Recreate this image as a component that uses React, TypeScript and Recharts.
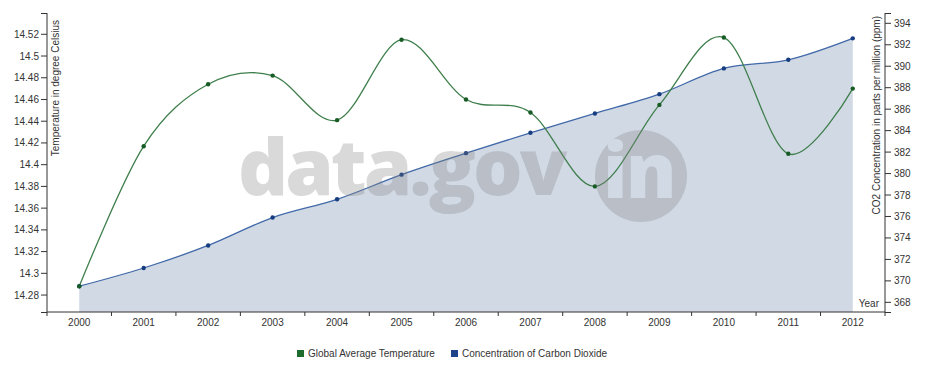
import { ComposedChart, Area, Line, XAxis, YAxis, Legend, Label } from "recharts";

const years = ["2000", "2001", "2002", "2003", "2004", "2005", "2006", "2007", "2008", "2009", "2010", "2011", "2012"];
const temperature = [14.288, 14.417, 14.474, 14.482, 14.441, 14.515, 14.46, 14.448, 14.38, 14.455, 14.517, 14.41, 14.47];
const co2 = [369.5, 371.2, 373.3, 375.9, 377.6, 379.9, 381.9, 383.8, 385.6, 387.4, 389.8, 390.6, 392.6];

const tempTicks = [14.28, 14.3, 14.32, 14.34, 14.36, 14.38, 14.4, 14.42, 14.44, 14.46, 14.48, 14.5, 14.52];
const co2Ticks = [368, 370, 372, 374, 376, 378, 380, 382, 384, 386, 388, 390, 392, 394];

const seriesNames = ["Global Average Temperature", "Concentration of Carbon Dioxide"];

const data = years.map((year, i) => ({ year, temp: temperature[i], co2: co2[i] }));

const W = 926;
const H = 374;
const PLOT_LEFT = 47;
const PLOT_RIGHT = 885;
const PLOT_TOP = 13;
const PLOT_BOTTOM = 312;
const BAND = (PLOT_RIGHT - PLOT_LEFT) / years.length;

const FONT = "'Liberation Sans', Arial, sans-serif";
const AXIS = "#333";
const TEXT = "#333";
const GREEN_LINE = "#3f7f4c";
const GREEN_DOT = "#175c25";
const BLUE_LINE = "#4169a8";
const BLUE_DOT = "#163d80";
const AREA_FILL = "#d1d9e5";
const legendColors = ["#1e6b2e", "#1d4488"];

// cardinal spline (tension 0), same maths as d3 curveCardinal
function cardinal(ctx: any) {
  const k = 1 / 6;
  let line = NaN;
  let n = 0;
  let x0 = 0, y0 = 0, x1 = 0, y1 = 0, x2 = 0, y2 = 0;
  const seg = (x: number, y: number) =>
    ctx.bezierCurveTo(x1 + k * (x2 - x0), y1 + k * (y2 - y0), x2 + k * (x1 - x), y2 + k * (y1 - y), x2, y2);
  return {
    areaStart() { line = 0; },
    areaEnd() { line = NaN; },
    lineStart() { n = 0; },
    lineEnd() {
      if (n === 2) ctx.lineTo(x2, y2);
      else if (n === 3) seg(x1, y1);
      if (line || (line !== 0 && n === 1)) ctx.closePath();
      line = 1 - line;
    },
    point(x: number, y: number) {
      x = +x; y = +y;
      if (n === 0) { n = 1; if (line) ctx.lineTo(x, y); else ctx.moveTo(x, y); }
      else if (n === 1) { n = 2; x1 = x; y1 = y; }
      else { n = 3; seg(x, y); }
      x0 = x1; x1 = x2; x2 = x;
      y0 = y1; y1 = y2; y2 = y;
    },
  };
}

function YearTick(props: any) {
  const { x, y, payload, index } = props;
  const left = x - BAND / 2;
  return (
    <g>
      <line x1={left} x2={left} y1={PLOT_BOTTOM} y2={PLOT_BOTTOM + 4} stroke={AXIS} />
      {index === years.length - 1 && (
        <line x1={x + BAND / 2} x2={x + BAND / 2} y1={PLOT_BOTTOM} y2={PLOT_BOTTOM + 4} stroke={AXIS} />
      )}
      <text x={x} y={y} dy="0.71em" textAnchor="middle" fontSize={10} fontFamily={FONT} fill={TEXT}>
        {payload.value}
      </text>
    </g>
  );
}

function LegendContent() {
  return (
    <div style={{ display: "flex", alignItems: "center", height: 22, paddingLeft: 297, fontFamily: FONT, fontSize: 10, color: TEXT }}>
      {seriesNames.map((name, i) => (
        <span key={name} style={{ display: "flex", alignItems: "center", marginRight: 16 }}>
          <span style={{ width: 7, height: 7, background: legendColors[i], marginRight: 4 }} />
          {name}
        </span>
      ))}
    </div>
  );
}

const fmtTemp = (v: number) => String(+v.toFixed(2));

export default function App() {
  return (
    <div style={{ position: "absolute", left: 0, top: 0, width: W, height: H, background: "#fff" }}>
      <ComposedChart width={W} height={H} data={data} margin={{ top: PLOT_TOP, right: 0, left: 0, bottom: 10 }}>
        <XAxis
          dataKey="year"
          type="category"
          scale="band"
          height={30}
          interval={0}
          tickSize={5}
          tickLine={false}
          axisLine={{ stroke: AXIS }}
          tick={<YearTick />}
        >
          <Label
            content={() => (
              <text x={PLOT_RIGHT - 6} y={306.5} textAnchor="end" fontSize={10} fontFamily={FONT} fill={TEXT}>
                Year
              </text>
            )}
          />
        </XAxis>
        <YAxis
          yAxisId="temp"
          orientation="left"
          width={PLOT_LEFT}
          domain={[14.2644, 14.5396]}
          ticks={tempTicks}
          interval={0}
          tickFormatter={fmtTemp}
          tickSize={6}
          tickMargin={2}
          axisLine={{ stroke: AXIS }}
          tickLine={{ stroke: AXIS }}
          tick={{ fontSize: 10, fontFamily: FONT, fill: TEXT }}
        >
          <Label
            content={() => (
              <text
                x={58.5}
                y={PLOT_TOP + 7}
                transform={`rotate(-90, 58.5, ${PLOT_TOP + 7})`}
                textAnchor="end"
                fontSize={10}
                fontFamily={FONT}
                fill={TEXT}
              >
                Temperature in degree Celsius
              </text>
            )}
          />
        </YAxis>
        <YAxis
          yAxisId="co2"
          orientation="right"
          width={W - PLOT_RIGHT}
          domain={[367.1, 394.96]}
          ticks={co2Ticks}
          interval={0}
          tickSize={6}
          tickMargin={3}
          axisLine={{ stroke: AXIS }}
          tickLine={{ stroke: AXIS }}
          tick={{ fontSize: 10, fontFamily: FONT, fill: TEXT }}
        >
          <Label
            content={() => (
              <text
                x={879.5}
                y={PLOT_TOP + 3}
                transform={`rotate(-90, 879.5, ${PLOT_TOP + 3})`}
                textAnchor="end"
                fontSize={10}
                fontFamily={FONT}
                fill={TEXT}
              >
                CO2 Concentration in parts per million (ppm)
              </text>
            )}
          />
        </YAxis>
        <Legend verticalAlign="bottom" height={22} content={<LegendContent />} />
        <Area
          yAxisId="co2"
          dataKey="co2"
          name={seriesNames[1]}
          type={cardinal as any}
          stroke={BLUE_LINE}
          strokeWidth={1.3}
          fill={AREA_FILL}
          fillOpacity={1}
          dot={{ r: 2.2, fill: BLUE_DOT, stroke: "none" }}
          activeDot={false}
          isAnimationActive={false}
        />
        <Line
          yAxisId="temp"
          dataKey="temp"
          name={seriesNames[0]}
          type={cardinal as any}
          stroke={GREEN_LINE}
          strokeWidth={1.3}
          dot={{ r: 2.2, fill: GREEN_DOT, stroke: "none" }}
          activeDot={false}
          isAnimationActive={false}
        />
      </ComposedChart>
      <svg width={W} height={H} style={{ position: "absolute", left: 0, top: 0, pointerEvents: "none" }}>
        <defs>
          <mask id="inCut">
            <rect width={W} height={H} fill="white" />
            <text x={603} y={198} fontSize={76} fontWeight={800} fontFamily="'Open Sans', sans-serif" fill="black" letterSpacing={-2}>
              in
            </text>
          </mask>
        </defs>
        <g fill="#828282" fillOpacity={0.3}>
          <text x={238} y={195} fontSize={78} fontWeight={800} fontFamily="'Open Sans', sans-serif" letterSpacing={-3}>
            data.gov
          </text>
          <circle cx={641} cy={176} r={46} mask="url(#inCut)" />
        </g>
        <g stroke={AXIS} strokeWidth={1}>
          <line x1={PLOT_LEFT - 6} x2={PLOT_LEFT} y1={PLOT_TOP + 0.5} y2={PLOT_TOP + 0.5} />
          <line x1={PLOT_LEFT - 6} x2={PLOT_LEFT} y1={PLOT_BOTTOM + 0.5} y2={PLOT_BOTTOM + 0.5} />
          <line x1={PLOT_RIGHT} x2={PLOT_RIGHT + 6} y1={PLOT_TOP + 0.5} y2={PLOT_TOP + 0.5} />
          <line x1={PLOT_RIGHT} x2={PLOT_RIGHT + 6} y1={PLOT_BOTTOM + 0.5} y2={PLOT_BOTTOM + 0.5} />
        </g>
      </svg>
    </div>
  );
}
